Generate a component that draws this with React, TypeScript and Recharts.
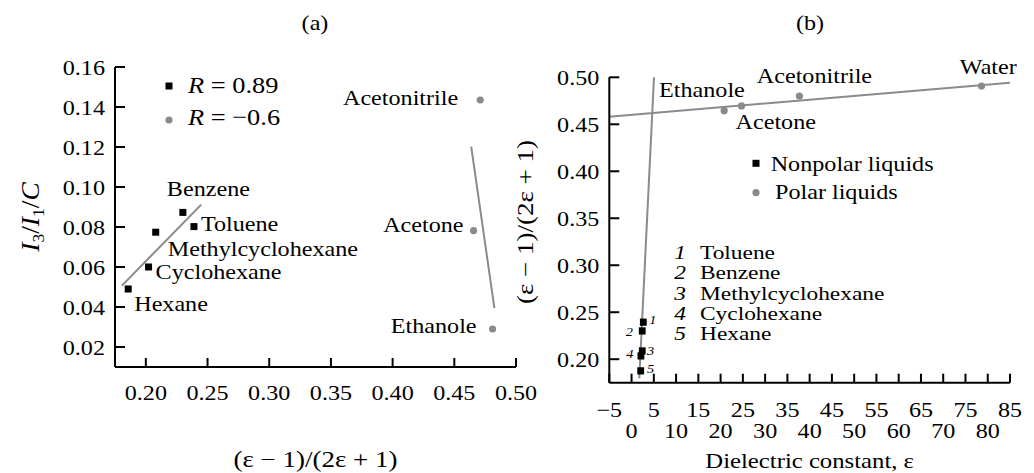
import React from 'react';
import { ScatterChart, Scatter, XAxis, YAxis, ReferenceLine, Legend, Label } from 'recharts';

const FONT = '"Liberation Serif", "Times New Roman", Times, serif';
const GRAY = '#8a8a8a';

// ---------- Panel (a) data ----------
const namesNonpolarA = ['Hexane', 'Cyclohexane', 'Methylcyclohexane', 'Benzene', 'Toluene'];
const xNonpolarA = [0.1857, 0.2022, 0.208, 0.23, 0.239];
const yNonpolarA = [0.049, 0.06, 0.0774, 0.0873, 0.0802];
const namesPolarA = ['Acetonitrile', 'Acetone', 'Ethanole'];
const xPolarA = [0.471, 0.4656, 0.481];
const yPolarA = [0.1435, 0.0782, 0.029];
const fitNonpolarAX = [0.1806, 0.2449];
const fitNonpolarAY = [0.0507, 0.0912];
const fitPolarAX = [0.4637, 0.4825];
const fitPolarAY = [0.1202, 0.0394];
const xTicksA = [0.2, 0.25, 0.3, 0.35, 0.4, 0.45, 0.5];
const yTicksA = [0.02, 0.04, 0.06, 0.08, 0.1, 0.12, 0.14, 0.16];
const rValuesA = ['0.89', '\u22120.6'];

// ---------- Panel (b) data ----------
const namesNonpolarB = ['Toluene', 'Benzene', 'Methylcyclohexane', 'Cyclohexane', 'Hexane'];
const numbersNonpolarB = ['1', '2', '3', '4', '5'];
const epsNonpolarB = [2.64, 2.4, 2.4, 2.1, 2.05];
const fNonpolarB = [0.2394, 0.2301, 0.2088, 0.2035, 0.1876];
const namesPolarB = ['Acetone', 'Ethanole', 'Acetonitrile', 'Water'];
const epsPolarB = [20.8, 24.7, 37.7, 78.6];
const fPolarB = [0.4645, 0.4695, 0.4801, 0.4907];
const fitNonpolarBX = [1.74, 5.04];
const fitNonpolarBY = [0.1798, 0.5];
const fitPolarBX = [-5, 85];
const fitPolarBY = [0.4581, 0.4941];
const xTicksB = [-5, 0, 5, 10, 15, 20, 25, 30, 35, 40, 45, 50, 55, 60, 65, 70, 75, 80, 85];
const yTicksB = [0.2, 0.25, 0.3, 0.35, 0.4, 0.45, 0.5];
const legendNamesB = ['Nonpolar liquids', 'Polar liquids'];

// ---------- label placement (style, kept apart from data) ----------
const labelPosA: Record<string, { dx: number; dy: number; anchor: string }> = {
  Hexane: { dx: 6, dy: 22, anchor: 'start' },
  Cyclohexane: { dx: 7, dy: 11.6, anchor: 'start' },
  Methylcyclohexane: { dx: 12, dy: 24, anchor: 'start' },
  Benzene: { dx: -16, dy: -16, anchor: 'start' },
  Toluene: { dx: 7, dy: 4.3, anchor: 'start' },
  Acetonitrile: { dx: -22, dy: 5.3, anchor: 'end' },
  Acetone: { dx: -10, dy: 1.6, anchor: 'end' },
  Ethanole: { dx: -16, dy: 4, anchor: 'end' },
};
const labelPosB: Record<string, { dx: number; dy: number; anchor: string }> = {
  Acetone: { dx: 11.4, dy: 18.6, anchor: 'start' },
  Ethanole: { dx: 3.3, dy: -9.3, anchor: 'end' },
  Acetonitrile: { dx: -42.6, dy: -12.7, anchor: 'start' },
  Water: { dx: -21.7, dy: -12, anchor: 'start' },
};
const numPosB: Record<string, { dx: number; dy: number }> = {
  '1': { dx: 9.4, dy: 1.7 },
  '2': { dx: -13, dy: 5 },
  '3': { dx: 8.4, dy: 4 },
  '4': { dx: -11, dy: 2 },
  '5': { dx: 10, dy: 2 },
};

const zip = (xs: number[], ys: number[], names?: string[], extra?: string[]) =>
  xs.map((x, i) => ({ x, y: ys[i], name: names ? names[i] : '', num: extra ? extra[i] : '' }));

const dataNonpolarA = zip(xNonpolarA, yNonpolarA, namesNonpolarA);
const dataPolarA = zip(xPolarA, yPolarA, namesPolarA);
const dataNonpolarB = zip(epsNonpolarB, fNonpolarB, namesNonpolarB, numbersNonpolarB);
const dataPolarB = zip(epsPolarB, fPolarB, namesPolarB);

// Text helper: serif text, slightly widened like the scanned original
const T = (props: {
  x: number;
  y: number;
  anchor?: string;
  size?: number;
  sx?: number;
  italic?: boolean;
  rotate?: number;
  children: React.ReactNode;
}) => {
  const { x, y, anchor = 'start', size = 21, sx = 1.15, italic = false, rotate = 0, children } = props;
  return (
    <text
      transform={`translate(${x},${y})${rotate ? ` rotate(${rotate})` : ''} scale(${sx},1)`}
      x={0}
      y={0}
      textAnchor={anchor as any}
      fontFamily={FONT}
      fontSize={size}
      fontStyle={italic ? 'italic' : undefined}
      fill="#000"
    >
      {children}
    </text>
  );
};

const squareShapeA = (props: any) => {
  const { cx, cy, payload } = props;
  const p = labelPosA[payload.name];
  return (
    <g>
      <rect x={cx - 3.5} y={cy - 3.5} width={7} height={7} fill="#000" />
      {p && (
        <T x={cx + p.dx} y={cy + p.dy} anchor={p.anchor}>
          {payload.name}
        </T>
      )}
    </g>
  );
};
const circleShapeA = (props: any) => {
  const { cx, cy, payload } = props;
  const p = labelPosA[payload.name];
  return (
    <g>
      <circle cx={cx} cy={cy} r={3.6} fill={GRAY} />
      {p && (
        <T x={cx + p.dx} y={cy + p.dy} anchor={p.anchor}>
          {payload.name}
        </T>
      )}
    </g>
  );
};
const squareShapeB = (props: any) => {
  const { cx, cy, payload } = props;
  const p = numPosB[payload.num];
  return (
    <g>
      <rect x={cx - 3.4} y={cy - 3.6} width={6.8} height={7.2} fill="#000" />
      {p && (
        <T x={cx + p.dx} y={cy + p.dy} anchor="middle" size={13} sx={1.1} italic>
          {payload.num}
        </T>
      )}
    </g>
  );
};
const circleShapeB = (props: any) => {
  const { cx, cy, payload } = props;
  const p = labelPosB[payload.name];
  return (
    <g>
      <circle cx={cx} cy={cy} r={3.6} fill={GRAY} />
      {p && (
        <T x={cx + p.dx} y={cy + p.dy} anchor={p.anchor}>
          {payload.name}
        </T>
      )}
    </g>
  );
};

const fmt2 = (v: number) => v.toFixed(2);
const fmtInt = (v: number) => (v < 0 ? '\u2212' + Math.abs(v) : String(v));

const XTickA = (props: any) => {
  const { x, y, payload } = props;
  return (
    <g>
      <line x1={x} y1={y} x2={x} y2={y - 9} stroke="#000" strokeWidth={2} />
      <T x={x} y={y + 33} anchor="middle">
        {fmt2(payload.value)}
      </T>
    </g>
  );
};
const YTick = (props: any) => {
  const { x, y, payload } = props;
  return (
    <g>
      <line x1={x} y1={y} x2={x + 10} y2={y} stroke="#000" strokeWidth={2} />
      <T x={x - 10} y={y + 8} anchor="end">
        {fmt2(payload.value)}
      </T>
    </g>
  );
};
const XTickB = (props: any) => {
  const { x, y, payload } = props;
  const v = payload.value as number;
  const secondRow = v % 10 === 0;
  return (
    <g>
      <line x1={x} y1={y} x2={x} y2={y - 9} stroke="#000" strokeWidth={2} />
      <T x={x} y={y + (secondRow ? 55.6 : 34)} anchor="middle">
        {fmtInt(v)}
      </T>
    </g>
  );
};

const LegendA = () => (
  <svg width={150} height={70} style={{ display: 'block', overflow: 'visible' }}>
    <rect x={15.5} y={17.5} width={7} height={7} fill="#000" />
    <T x={38} y={28.3} size={24} sx={1.1}>
      <tspan fontStyle="italic">R</tspan>
      <tspan> = {rValuesA[0]}</tspan>
    </T>
    <circle cx={19} cy={55} r={3.6} fill={GRAY} />
    <T x={38} y={60} size={24} sx={1.1}>
      <tspan fontStyle="italic">R</tspan>
      <tspan> = {rValuesA[1]}</tspan>
    </T>
  </svg>
);

const LegendB = () => (
  <svg width={200} height={60} style={{ display: 'block', overflow: 'visible' }}>
    <rect x={9.5} y={9.8} width={7} height={7} fill="#000" />
    <T x={27.7} y={20.7}>{legendNamesB[0]}</T>
    <circle cx={13} cy={42.7} r={3.6} fill={GRAY} />
    <T x={32} y={49}>{legendNamesB[1]}</T>
  </svg>
);

const NumberList = () => (
  <svg width={260} height={110} style={{ display: 'block', overflow: 'visible' }}>
    {namesNonpolarB.map((n, i) => (
      <g key={n}>
        <T x={10} y={20 + i * 20.25} anchor="middle" size={19.5} sx={1.2} italic>
          {numbersNonpolarB[i]}
        </T>
        <T x={30} y={20 + i * 20.25} size={19.5} sx={1.2}>
          {n}
        </T>
      </g>
    ))}
  </svg>
);

export default function App() {
  return (
    <div style={{ position: 'absolute', left: 0, top: 0, width: 1034, height: 473, background: '#fff' }}>
      {/* Panel (a) */}
      <div style={{ position: 'absolute', left: 0, top: 0 }}>
        <ScatterChart width={560} height={473} margin={{ top: 67, right: 44, bottom: 76, left: 55 }}>
          <XAxis
            type="number"
            dataKey="x"
            domain={[0.175, 0.5]}
            ticks={xTicksA}
            interval={0}
            height={30}
            tickSize={0}
            tickMargin={0}
            tickLine={false}
            axisLine={{ stroke: '#000', strokeWidth: 2 }}
            tick={<XTickA />}
          >
            <Label
              content={(p: any) => {
                const vb = p.viewBox || { x: 115, y: 367, width: 401 };
                return (
                  <T x={vb.x + vb.width / 2} y={vb.y + 100} anchor="middle" size={22.5} sx={1.2}>
                    (ε − 1)/(2ε + 1)
                  </T>
                );
              }}
            />
          </XAxis>
          <YAxis
            type="number"
            dataKey="y"
            domain={[0.01, 0.16]}
            ticks={yTicksA}
            interval={0}
            width={60}
            tickSize={0}
            tickMargin={0}
            tickLine={false}
            axisLine={{ stroke: '#000', strokeWidth: 2 }}
            tick={<YTick />}
          >
            <Label
              content={(p: any) => {
                const vb = p.viewBox || { x: 55, y: 67, width: 60, height: 300 };
                const cx = vb.x - 16;
                const cy = vb.y + vb.height / 2;
                return (
                  <T x={cx} y={cy} anchor="middle" size={25} sx={1.1} rotate={-90}>
                    <tspan fontStyle="italic">I</tspan>
                    <tspan fontSize={16} dy={5}>3</tspan>
                    <tspan dy={-5}>/</tspan>
                    <tspan fontStyle="italic">I</tspan>
                    <tspan fontSize={16} dy={5}>1</tspan>
                    <tspan dy={-5}>/</tspan>
                    <tspan fontStyle="italic">C</tspan>
                  </T>
                );
              }}
            />
          </YAxis>
          <ReferenceLine
            segment={[
              { x: fitNonpolarAX[0], y: fitNonpolarAY[0] },
              { x: fitNonpolarAX[1], y: fitNonpolarAY[1] },
            ]}
            stroke={GRAY}
            strokeWidth={2}
            ifOverflow="visible"
          />
          <ReferenceLine
            segment={[
              { x: fitPolarAX[0], y: fitPolarAY[0] },
              { x: fitPolarAX[1], y: fitPolarAY[1] },
            ]}
            stroke={GRAY}
            strokeWidth={2}
            ifOverflow="visible"
          />
          <Scatter name="R = 0.89" data={dataNonpolarA} fill="#000" shape={squareShapeA} isAnimationActive={false} />
          <Scatter name="R = −0.6" data={dataPolarA} fill={GRAY} shape={circleShapeA} isAnimationActive={false} />
          <Legend
            layout="vertical"
            align="center"
            verticalAlign="middle"
            wrapperStyle={{ left: 150, top: 65, width: 150, height: 70 }}
            content={() => <LegendA />}
          />
        </ScatterChart>
      </div>

      {/* Panel (b) */}
      <div style={{ position: 'absolute', left: 500, top: 0 }}>
        <ScatterChart width={534} height={473} margin={{ top: 77.3, right: 24, bottom: 60.3, left: 49.3 }}>
          <XAxis
            type="number"
            dataKey="x"
            domain={[-5, 85]}
            ticks={xTicksB}
            interval={0}
            height={30}
            tickSize={0}
            tickMargin={0}
            tickLine={false}
            axisLine={{ stroke: '#000', strokeWidth: 2 }}
            tick={<XTickB />}
          >
            <Label
              content={(p: any) => {
                const vb = p.viewBox || { x: 109.3, y: 382.7, width: 400.7 };
                return (
                  <T x={vb.x + vb.width / 2} y={vb.y + 85.6} anchor="middle" size={21.5} sx={1.15}>
                    Dielectric constant, ε
                  </T>
                );
              }}
            />
          </XAxis>
          <YAxis
            type="number"
            dataKey="y"
            domain={[0.175, 0.5]}
            ticks={yTicksB}
            interval={0}
            width={60}
            tickSize={0}
            tickMargin={0}
            tickLine={false}
            axisLine={{ stroke: '#000', strokeWidth: 2 }}
            tick={<YTick />}
          >
            <Label
              content={(p: any) => {
                const vb = p.viewBox || { x: 49.3, y: 77.3, width: 60, height: 305.4 };
                const cx = vb.x - 16;
                const cy = vb.y + vb.height / 2 - 8;
                return (
                  <T x={cx} y={cy} anchor="middle" size={22.5} sx={1.2} rotate={-90}>
                    (ε − 1)/(2ε + 1)
                  </T>
                );
              }}
            />
          </YAxis>
          <ReferenceLine
            segment={[
              { x: fitPolarBX[0], y: fitPolarBY[0] },
              { x: fitPolarBX[1], y: fitPolarBY[1] },
            ]}
            stroke={GRAY}
            strokeWidth={2}
            ifOverflow="visible"
          />
          <ReferenceLine
            segment={[
              { x: fitNonpolarBX[0], y: fitNonpolarBY[0] },
              { x: fitNonpolarBX[1], y: fitNonpolarBY[1] },
            ]}
            stroke={GRAY}
            strokeWidth={2}
            ifOverflow="visible"
          />
          <Scatter name={legendNamesB[0]} data={dataNonpolarB} fill="#000" shape={squareShapeB} isAnimationActive={false} />
          <Scatter name={legendNamesB[1]} data={dataPolarB} fill={GRAY} shape={circleShapeB} isAnimationActive={false} />
          <Legend
            layout="vertical"
            align="center"
            verticalAlign="middle"
            wrapperStyle={{ left: 243, top: 150, width: 200, height: 60 }}
            content={() => <LegendB />}
          />
        </ScatterChart>
      </div>

      {/* numbered key for panel (b) */}
      <div style={{ position: 'absolute', left: 670, top: 239, pointerEvents: 'none' }}>
        <NumberList />
      </div>

      {/* panel titles */}
      <svg
        width={1034}
        height={473}
        style={{ position: 'absolute', left: 0, top: 0, pointerEvents: 'none' }}
      >
        <T x={315} y={30} anchor="middle">(a)</T>
        <T x={810} y={30} anchor="middle">(b)</T>
      </svg>
    </div>
  );
}
